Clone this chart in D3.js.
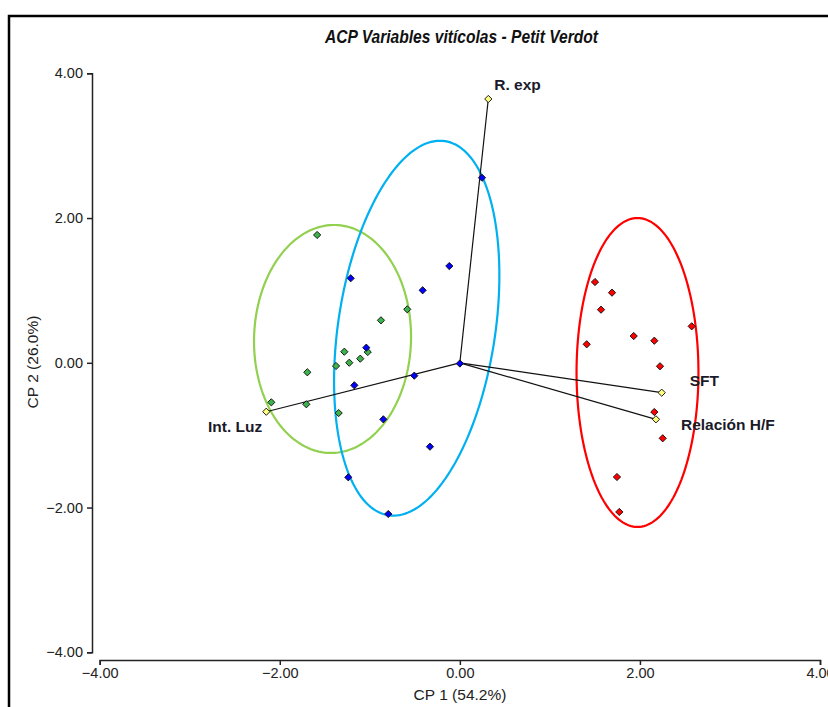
<!DOCTYPE html>
<html>
<head>
<meta charset="utf-8">
<script src="https://cdn.jsdelivr.net/npm/d3@7"></script>
<style>
  html, body { margin: 0; padding: 0; background: #fff; }
  svg { display: block; }
</style>
</head>
<body>
<svg id="chart" width="828" height="707"></svg>
<script>
// ---- Data ----
const titleText = "ACP Variables vitícolas - Petit Verdot";
const xLabel = "CP 1 (54.2%)";
const yLabel = "CP 2 (26.0%)";
const xTicks = [-4, -2, 0, 2, 4];
const yTicks = [-4, -2, 0, 2, 4];

const greenX = [-1.585, -0.584, -0.876, -1.023, -1.283, -1.106, -1.228, -1.375, -1.694, -2.094, -1.705, -1.346];
const greenY = [ 1.766,  0.739,  0.587,  0.149,  0.153,  0.057,  0.001, -0.044, -0.131, -0.546, -0.573, -0.694];

const blueX = [-1.212, -0.117, -0.413, -1.039, 0.000, -0.506, -1.172, -0.850, 0.246, -0.332, -1.239, -0.795];
const blueY = [ 1.168,  1.337,  1.002,  0.209, -0.010, -0.178, -0.311, -0.781, 2.557, -1.159, -1.582, -2.089];

const redX = [1.501, 1.690, 1.568, 2.575, 1.931, 2.160, 1.409, 2.223, 2.160, 2.253, 1.745, 1.771];
const redY = [1.116, 0.969, 0.734, 0.504, 0.370, 0.305, 0.256, -0.048, -0.680, -1.043, -1.578, -2.061];

const varNames = ["R. exp", "SFT", "Relación H/F", "Int. Luz"];
const varX = [0.316, 2.242, 2.178, -2.150];
const varY = [3.645, -0.413, -0.781, -0.676];

// confidence ellipses: center, half-extents, correlation
const ellNames = ["green", "blue", "red"];
const ellCX = [-1.414, -0.479, 1.973];
const ellCY = [ 0.329,  0.478, -0.134];
const ellWX = [ 0.872,  0.918, 0.677];
const ellWY = [ 1.575,  2.590, 2.134];
const ellR  = [ 0.02,   0.282, 0.0];

// ---- Styles ----
const ellColors = { green: "#92d050", blue: "#00b0f0", red: "#ff0000" };
const ptColors = { green: "#3cb44b", blue: "#0000ff", red: "#ff0000", var: "#ffff80" };

const svg = d3.select("#chart");

// frame
svg.append("rect").attr("x", 9).attr("y", 16).attr("width", 900).attr("height", 800)
  .attr("fill", "none").attr("stroke", "#000").attr("stroke-width", 2.5);

const x = d3.scaleLinear().domain([-4, 4]).range([99.7, 820]);
const y = d3.scaleLinear().domain([-4, 4]).range([652.3, 73.3]);

// title
svg.append("text").attr("x", 461.5).attr("y", 43).attr("text-anchor", "middle")
  .attr("font-family", "'Liberation Sans Narrow','Arial Narrow','Liberation Sans',Arial,sans-serif")
  .attr("font-style", "italic").attr("font-weight", "bold").attr("font-size", 18)
  .attr("textLength", 273).attr("lengthAdjust", "spacingAndGlyphs")
  .attr("fill", "#111").text(titleText);

// axes
const xAxis = d3.axisBottom(x).tickValues(xTicks).tickFormat(d3.format(".2f")).tickSizeOuter(0).tickSize(5).tickPadding(3);
const yAxis = d3.axisLeft(y).tickValues(yTicks).tickFormat(d3.format(".2f")).tickSizeOuter(0).tickSize(5).tickPadding(4);

const gx = svg.append("g").attr("transform", "translate(0,660)").call(xAxis);
const gy = svg.append("g").attr("transform", "translate(92,0)").call(yAxis);
[gx, gy].forEach(g => {
  g.select(".domain").attr("stroke", "#222").attr("stroke-width", 1.5);
  g.selectAll(".tick line").attr("stroke", "#222").attr("stroke-width", 1.5);
  g.selectAll(".tick text").attr("font-family", "'Liberation Sans',Arial,sans-serif")
    .attr("font-size", 14.5).attr("fill", "#222");
});

svg.append("text").attr("x", 460).attr("y", 700).attr("text-anchor", "middle")
  .attr("font-family", "'Liberation Sans',Arial,sans-serif").attr("font-size", 15.5)
  .attr("fill", "#222").text(xLabel);
svg.append("text").attr("transform", "translate(38,362) rotate(-90)").attr("text-anchor", "middle")
  .attr("font-family", "'Liberation Sans',Arial,sans-serif").attr("font-size", 15.5)
  .attr("fill", "#222").text(yLabel);

// ellipses
const line = d3.line().x(d => x(d[0])).y(d => y(d[1])).curve(d3.curveLinearClosed);
ellNames.forEach((name, i) => {
  const pts = d3.range(0, 360, 2).map(deg => {
    const t = deg * Math.PI / 180;
    const r = ellR[i];
    return [ellCX[i] + ellWX[i] * Math.cos(t),
            ellCY[i] + ellWY[i] * (r * Math.cos(t) + Math.sqrt(1 - r * r) * Math.sin(t))];
  });
  svg.append("path").attr("d", line(pts)).attr("fill", "none")
    .attr("stroke", ellColors[name]).attr("stroke-width", 2.2);
});

// biplot vectors
varNames.forEach((n, i) => {
  svg.append("line").attr("x1", x(0)).attr("y1", y(0)).attr("x2", x(varX[i])).attr("y2", y(varY[i]))
    .attr("stroke", "#111").attr("stroke-width", 1.2);
});

// points
const diamond = d3.symbol().type(d3.symbolSquare).size(26);
function drawPts(xs, ys, color) {
  svg.append("g").selectAll("path").data(xs.map((v, i) => [v, ys[i]])).join("path")
    .attr("d", diamond)
    .attr("transform", d => `translate(${x(d[0])},${y(d[1])}) rotate(45)`)
    .attr("fill", color).attr("stroke", "#111").attr("stroke-width", 0.9);
}
drawPts(greenX, greenY, ptColors.green);
drawPts(blueX, blueY, ptColors.blue);
drawPts(redX, redY, ptColors.red);
drawPts(varX, varY, ptColors.var);

// variable labels
const labDx = [6, 28, 25, -4];
const labDy = [-14, -12, 5, 15];
const labAnchor = ["start", "start", "start", "end"];
varNames.forEach((n, i) => {
  svg.append("text").attr("x", x(varX[i]) + labDx[i]).attr("y", y(varY[i]) + labDy[i])
    .attr("dy", "0.35em").attr("text-anchor", labAnchor[i])
    .attr("font-family", "'Liberation Sans',Arial,sans-serif").attr("font-weight", "bold")
    .attr("font-size", 15.5).attr("fill", "#1a1a2a").text(n);
});
</script>
</body>
</html>
